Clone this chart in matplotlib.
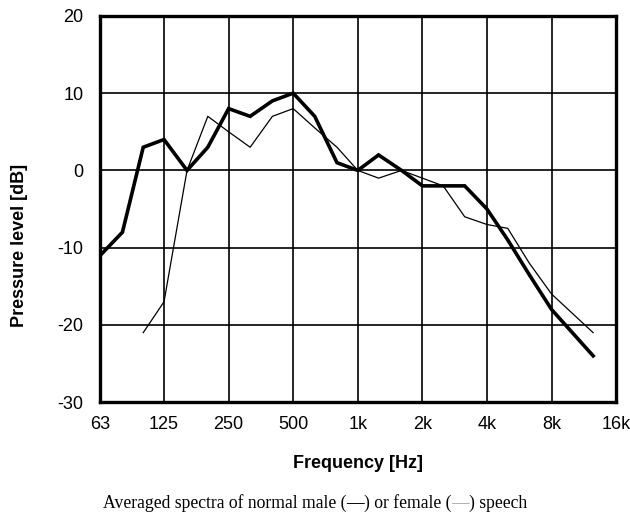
# coding:utf-8

# 男声/女声平均语音频谱

import matplotlib
matplotlib.use("Agg")
import matplotlib.pyplot as plt
import numpy as np


# 1/3 倍频程中心频率
freq = [63, 80, 100, 125, 160, 200, 250, 315, 400, 500, 630, 800, 1000,
        1250, 1600, 2000, 2500, 3150, 4000, 5000, 6300, 8000, 10000, 12500]

male = [-11, -8, 3, 4, 0, 3, 8, 7, 9, 10, 7, 1, 0,
        2, 0, -2, -2, -2, -5, -9, -13.5, -18, -21, -24]

female_freq = freq[2:]
female = [-21, -17, 0, 7, 5, 3, 7, 8, 5.5, 3, 0,
          -1, 0, -1, -2, -6, -7, -7.5, -12, -16, -18.5, -21]

tick_freq = [63, 125, 250, 500, 1000, 2000, 4000, 8000, 16000]
tick_labels = ['63', '125', '250', '500', '1k', '2k', '4k', '8k', '16k']
y_ticks = [-30, -20, -10, 0, 10, 20]


def main():
    plt.rcParams['font.family'] = ['Liberation Sans', 'DejaVu Sans']
    plt.rcParams['axes.unicode_minus'] = False
    fig = plt.figure(figsize=(6.3, 5.13), dpi=100)
    ax = fig.add_axes([0.159, 0.216, 0.819, 0.753])

    ax.plot(freq, male, color='black', lw=2.6, solid_joinstyle='miter', zorder=4)
    ax.plot(female_freq, female, color='black', lw=0.9, zorder=3)

    ax.set_xscale('log', base=2)
    ax.set_xlim(63, 16000)
    ax.set_ylim(-30, 20)
    ax.set_xticks(tick_freq)
    ax.set_xticklabels(tick_labels)
    ax.minorticks_off()
    ax.set_yticks(y_ticks)
    ax.tick_params(length=0, labelsize=13)
    ax.tick_params(axis='x', pad=10)
    ax.tick_params(axis='y', pad=12)
    ax.grid(True, color='black', lw=1.2)
    ax.set_axisbelow(True)
    for s in ax.spines.values():
        s.set_linewidth(2.4)

    ax.set_xlabel('Frequency [Hz]', fontsize=13, fontweight='bold', va='top')
    ax.xaxis.set_label_coords(0.499, -0.138)
    ax.set_ylabel('Pressure level [dB]', fontsize=13, fontweight='bold')
    ax.yaxis.set_label_coords(-0.14, 0.407)

    # 图注：粗线为男声，细线为女声
    serif = 'Liberation Serif'
    t1 = fig.text(103 / 630, 1 - 508 / 513, 'Averaged spectra of normal male (',
                  ha='left', va='baseline', fontsize=12.7, family=serif)
    t2 = fig.text(0, 0, '\u2014', fontsize=12.7, family=serif, fontweight='bold',
                  color='black')
    t3 = fig.text(0, 0, ') or female (', fontsize=12.7, family=serif)
    t4 = fig.text(0, 0, '\u2014', fontsize=12.7, family=serif, color='#999999')
    t5 = fig.text(0, 0, ') speech', fontsize=12.7, family=serif)
    fig.canvas.draw()
    r = fig.canvas.get_renderer()
    prev = t1
    for t in [t2, t3, t4, t5]:
        bb = prev.get_window_extent(r)
        x = bb.x1 / fig.bbox.width
        t.set_position((x, t1.get_position()[1]))
        t.set_va('baseline')
        t.set_ha('left')
        prev = t

    fig.savefig('out.png', dpi=100)


if __name__ == "__main__":
    main()
